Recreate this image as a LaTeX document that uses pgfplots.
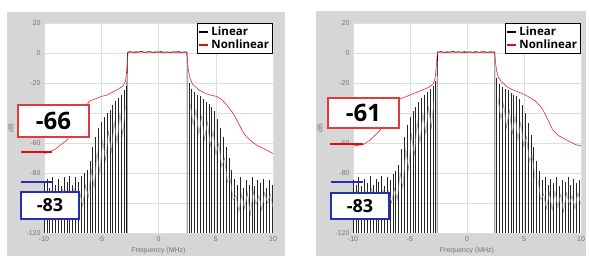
\documentclass[border=0pt]{standalone}
\usepackage{pgfplots}
\pgfplotsset{compat=1.18}
\usepackage{fontspec}
\setmainfont{Liberation Sans}
\newfontfamily\boxfont{Open Sans}
\definecolor{panelgray}{RGB}{214,214,214}
\definecolor{boxred}{RGB}{222,60,60}
\definecolor{mred}{RGB}{228,10,10}
\definecolor{mblue}{RGB}{35,45,185}
\definecolor{lred}{RGB}{235,40,40}

\pgfplotsset{
  panel/.style={
    scale only axis, width=229pt, height=210pt,
    xmin=-10, xmax=10, ymin=-120, ymax=20,
    xtick={-10,-5,0,5,10}, ytick={-120,-100,-80,-60,-40,-20,0,20},
    grid=major, grid style={black!13, line width=0.5pt},
    axis line style={draw=none}, tick style={draw=none},
    axis background/.style={fill=white},
    ticklabel style={font=\fontsize{7}{8}\selectfont, text=black!55},
    /pgf/number format/assume math mode=true,
    xlabel={Frequency (MHz)}, ylabel={dB},
    label style={font=\fontsize{7}{8}\selectfont, text=black!55},
    xlabel style={at={(axis description cs:0.5,0)}, anchor=north, yshift=-11pt},
    ylabel style={at={(axis description cs:0,0.5)}, anchor=south, yshift=27pt},
    legend style={at={(1,1)}, anchor=north east, draw=black, line width=0.9pt,
      font=\boxfont\bfseries\fontsize{11.5}{12.5}\selectfont, inner sep=1.5pt, row sep=-1pt, fill=white},
    legend cell align=left,
    legend image code/.code={\draw[#1, line width=2pt] (0pt,0pt) -- (9pt,0pt);},
    clip=true,
  },
  stems/.style={forget plot, draw=none, mark=none,
    error bars/.cd, y dir=minus, y fixed=200, error mark=none,
    error bar style={draw=black!85, line width=0.6pt}},
}

\begin{document}
\begin{tikzpicture}[x=1pt,y=1pt]
\path[fill=white] (0,0) rectangle (589,256);
\fill[panelgray] (7,0) rectangle (285,244);
\fill[panelgray] (316,0) rectangle (586,245);

% ---------------- left panel ----------------
\begin{axis}[panel, at={(44pt,23pt)}, anchor=south west]
\addlegendimage{black}\addlegendentry{Linear}
\addlegendimage{mred}\addlegendentry{Nonlinear}
% Linear: spectral lines
\addplot[stems] coordinates {
(-10,-86)(-9.75,-84)(-9.5,-90)(-9.25,-83)(-9,-88)(-8.75,-84)(-8.5,-89)(-8.25,-83)
(-8,-86)(-7.75,-82)(-7.5,-88)(-7.25,-83)(-7,-86)(-6.75,-82)(-6.5,-80)(-6.25,-78)
(-6,-72)(-5.75,-63)(-5.5,-56)(-5.25,-50)(-5,-46)(-4.75,-43)(-4.5,-40)(-4.25,-38)
(-4,-35)(-3.75,-32)(-3.5,-30)(-3.25,-28)(-3,-25)(-2.85,-22)
(2.65,-20)(2.9,-24)(3.15,-26)(3.4,-28)(3.65,-29)(3.9,-31)(4.15,-33)(4.4,-34)
(4.65,-36)(4.9,-39)(5.15,-44)(5.4,-50)(5.65,-56)(5.9,-63)(6.15,-70)(6.4,-78)
(6.65,-84)(6.9,-88)(7.15,-83)(7.4,-90)(7.65,-85)(7.9,-88)(8.15,-83)(8.4,-89)
(8.65,-85)(8.9,-87)(9.15,-84)(9.4,-90)(9.65,-85)(9.9,-88)
};
% Linear: sidelobes between lines
\addplot[forget plot, black!40, line width=0.4pt] coordinates {
(-10,-95)(-9.87,-104)(-9.62,-93)(-9.5,-108)(-9.37,-92)(-9.12,-101)(-8.87,-94)(-8.62,-106)
(-8.37,-91)(-8.12,-99)(-7.87,-92)(-7.62,-104)(-7.37,-90)(-7.12,-100)(-6.87,-93)(-6.62,-102)
(-6.37,-88)(-6.12,-96)(-5.87,-78)(-5.62,-90)(-5.37,-66)(-5.12,-80)(-4.87,-58)(-4.62,-72)
(-4.37,-52)(-4.12,-66)(-3.87,-46)(-3.62,-60)(-3.37,-40)(-3.12,-55)(-2.9,-35)
};
\addplot[forget plot, black!40, line width=0.4pt] coordinates {
(2.78,-34)(3.02,-48)(3.27,-38)(3.52,-54)(3.77,-42)(4.02,-58)(4.27,-46)(4.52,-62)
(4.77,-52)(5.02,-68)(5.27,-60)(5.52,-76)(5.77,-70)(6.02,-86)(6.27,-84)(6.52,-98)
(6.77,-95)(7.02,-106)(7.27,-94)(7.52,-104)(7.77,-93)(8.02,-108)(8.27,-92)
(8.52,-101)(8.77,-95)(9.02,-105)(9.27,-93)(9.52,-100)(9.77,-94)(10,-103)
};
% Linear passband
\addplot[forget plot, black, line width=0.6pt] coordinates {
(-2.75,-120)(-2.75,-20)(-2.7,0.5)(-2.5,0.9)(-2.25,0.4)(-2,0.8)(-1.75,0.6)(-1.5,1.0)
(-1.25,0.5)(-1,0.7)(-0.75,0.9)(-0.5,0.4)(-0.25,0.8)(0,0.6)(0.25,0.9)(0.5,0.5)
(0.75,0.7)(1,0.3)(1.25,0.8)(1.5,0.6)(1.75,0.9)(2,0.5)(2.25,0.7)(2.5,0.6)(2.5,-120)
};
% Nonlinear
\addplot[forget plot, lred, line width=0.6pt] coordinates {
(-10,-67)(-9.5,-66)(-9,-64)(-8.5,-61)(-8,-58)(-7.5,-53)(-7,-45)(-6.5,-37)
(-6,-32)(-5.5,-30.5)(-5,-29)(-4.5,-28)(-4,-26)(-3.5,-24)(-3.1,-22)(-2.9,-19)
(-2.8,-14)(-2.72,-4)(-2.65,0.4)(-2.4,0.6)(-2,0.3)(-1.6,0.7)(-1.2,0.4)(-0.8,0.6)
(-0.4,0.3)(0,0.5)(0.4,0.2)(0.8,0.6)(1.2,0.4)(1.6,0.5)(2,0.3)(2.4,0.5)
(2.52,-3)(2.6,-11)(2.75,-17)(3,-21)(3.3,-23)(3.6,-25)(4,-26.5)(4.5,-28)
(5.1,-29)(5.5,-31)(6,-35)(6.5,-40)(7,-47)(7.4,-53)(7.7,-56)(8,-58)
(8.3,-60)(8.7,-62)(9,-63)(9.5,-65)(10,-67)
};
\end{axis}

% ---------------- right panel ----------------
\begin{axis}[panel, width=228pt, at={(353pt,23pt)}, anchor=south west]
\addlegendimage{black}\addlegendentry{Linear}
\addlegendimage{mred}\addlegendentry{Nonlinear}
\addplot[stems] coordinates {
(-10,-85)(-9.75,-88)(-9.5,-83)(-9.25,-89)(-9,-84)(-8.75,-87)(-8.5,-82)(-8.25,-88)
(-8,-84)(-7.75,-86)(-7.5,-82)(-7.25,-89)(-7,-83)(-6.75,-85)(-6.5,-81)(-6.25,-79)
(-6,-75)(-5.75,-64)(-5.5,-56)(-5.25,-48)(-5,-43)(-4.75,-39)(-4.5,-36)(-4.25,-33)
(-4,-30)(-3.75,-28)(-3.5,-26)(-3.25,-24)(-3,-22)(-2.8,-19)
(2.6,-17)(2.85,-21)(3.1,-23)(3.35,-24)(3.6,-25)(3.85,-27)(4.1,-28)(4.35,-29)
(4.6,-31)(4.85,-35)(5.1,-40)(5.35,-47)(5.6,-55)(5.85,-63)(6.1,-72)(6.35,-79)
(6.6,-85)(6.85,-83)(7.1,-88)(7.35,-84)(7.6,-87)(7.85,-83)(8.1,-89)(8.35,-85)
(8.6,-86)(8.85,-83)(9.1,-88)(9.35,-84)(9.6,-87)(9.85,-85)
};
\addplot[forget plot, black!40, line width=0.4pt] coordinates {
(-10,-96)(-9.87,-103)(-9.62,-92)(-9.5,-107)(-9.37,-93)(-9.12,-100)(-8.87,-92)(-8.62,-105)
(-8.37,-90)(-8.12,-100)(-7.87,-93)(-7.62,-103)(-7.37,-91)(-7.12,-101)(-6.87,-92)(-6.62,-100)
(-6.37,-90)(-6.12,-98)(-5.87,-80)(-5.62,-90)(-5.37,-64)(-5.12,-78)(-4.87,-54)(-4.62,-68)
(-4.37,-46)(-4.12,-60)(-3.87,-40)(-3.62,-54)(-3.37,-36)(-3.12,-50)(-2.9,-32)
};
\addplot[forget plot, black!40, line width=0.4pt] coordinates {
(2.72,-30)(2.97,-44)(3.22,-34)(3.47,-50)(3.72,-38)(3.97,-54)(4.22,-42)(4.47,-58)
(4.72,-46)(4.97,-62)(5.22,-56)(5.47,-72)(5.72,-68)(5.97,-84)(6.22,-84)(6.47,-98)
(6.72,-94)(6.97,-104)(7.22,-93)(7.47,-105)(7.72,-92)(7.97,-103)(8.22,-94)
(8.47,-106)(8.72,-93)(8.97,-101)(9.22,-95)(9.47,-104)(9.72,-93)(10,-101)
};
\addplot[forget plot, black, line width=0.6pt] coordinates {
(-2.62,-120)(-2.62,-18)(-2.58,0.6)(-2.25,0.9)(-2,0.4)(-1.75,0.8)(-1.5,0.5)(-1.25,1.0)
(-1,0.6)(-0.75,0.8)(-0.5,0.4)(-0.25,0.9)(0,0.6)(0.25,0.8)(0.5,0.4)(0.75,0.9)
(1,0.5)(1.25,0.7)(1.5,0.9)(1.75,0.4)(2,0.8)(2.25,0.6)(2.45,0.7)(2.45,-120)
};
\addplot[forget plot, lred, line width=0.6pt] coordinates {
(-10,-62)(-9.5,-61.5)(-9.1,-61)(-8.5,-58)(-7.8,-53)(-7.3,-48)(-7,-45)(-6.5,-37)
(-6,-31)(-5.5,-29.5)(-5,-28)(-4.5,-26.5)(-4,-25)(-3.4,-23)(-3,-21)(-2.8,-17)
(-2.68,-8)(-2.6,0.4)(-2.2,0.6)(-1.8,0.3)(-1.4,0.7)(-1,0.4)(-0.6,0.6)(-0.2,0.3)
(0.2,0.5)(0.6,0.3)(1,0.6)(1.4,0.4)(1.8,0.5)(2.2,0.3)(2.42,0.5)
(2.5,-6)(2.6,-12)(2.75,-16)(3,-19)(3.3,-21)(3.6,-23)(4,-24.5)(4.5,-26)
(5,-27.5)(5.35,-29)(6,-32)(6.6,-37)(7,-43)(7.5,-51)(8,-55)(8.5,-57)
(9,-59)(9.5,-61)(10,-62)
};
\end{axis}

% ---------------- annotations ----------------
\draw[mred, line width=2.6pt] (21,104) -- (52,104);
\draw[mblue, line width=2pt] (21,74) -- (52,74);
\draw[boxred, line width=1.3pt, fill=white] (18,119) rectangle (89,151);
\node[font=\boxfont\bfseries\fontsize{24}{24}\selectfont] at (53.5,135) {-66};
\draw[mblue, line width=1.5pt, fill=white] (21,37) rectangle (79,64);
\node[font=\boxfont\bfseries\fontsize{18}{18}\selectfont] at (50,50.5) {-83};

\draw[mred, line width=2.6pt] (330,112) -- (363,112);
\draw[mblue, line width=2pt] (331,74) -- (363,74);
\draw[boxred, line width=1.3pt, fill=white] (328,128) rectangle (399,158);
\node[font=\boxfont\bfseries\fontsize{24}{24}\selectfont] at (363.5,143) {-61};
\draw[mblue, line width=1.5pt, fill=white] (331,37) rectangle (389,63);
\node[font=\boxfont\bfseries\fontsize{18}{18}\selectfont] at (360,50) {-83};
\end{tikzpicture}
\end{document}
